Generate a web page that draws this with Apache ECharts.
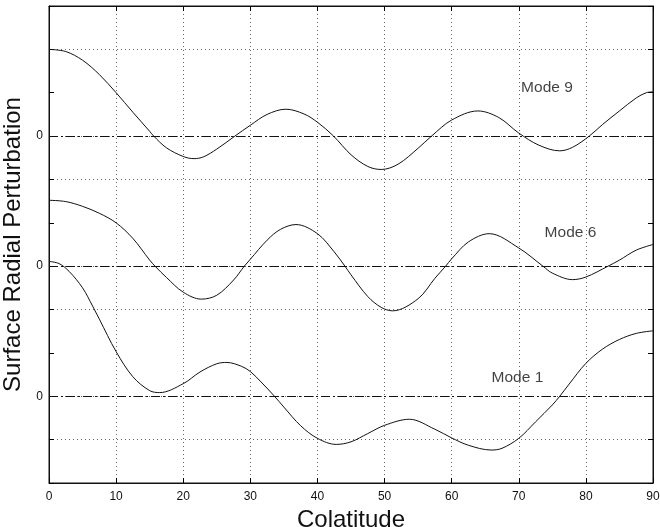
<!DOCTYPE html>
<html>
<head>
<meta charset="utf-8">
<script src="https://cdn.jsdelivr.net/npm/echarts@6/dist/echarts.min.js"></script>
<style>html,body{margin:0;padding:0;background:#fff;}#c{width:660px;height:527px;}</style>
</head>
<body>
<div id="c"></div>
<script>
// x ticks
const xTicks = [0, 10, 20, 30, 40, 50, 60, 70, 80, 90];
// y tick labels (value on stacked axis -> shown text)
const yLabelValues = [2, 5, 8];
const yLabelTexts = ['0', '0', '0'];

// offsets of each mode's zero line on the stacked axis
const offsets = [8, 5, 2];
const modeNames = ['Mode 9', 'Mode 6', 'Mode 1'];
const labelPos = [[74.2, 9.11], [77.7, 5.77], [69.8, 2.42]];

// [colatitude, perturbation relative to zero line]
const mode9 = [[0,2.0],[2.5,1.95],[5,1.75],[7.5,1.42],[10,1.0],[12.5,0.55],[15,0.11],[15.6,0],[17.5,-0.27],[20,-0.47],[21.6,-0.52],[23,-0.48],[25,-0.3],[27.7,0],[30,0.25],[32.5,0.50],[35.3,0.62],[38,0.51],[40,0.32],[42.4,0],[45,-0.43],[47.5,-0.70],[49.5,-0.77],[52,-0.65],[55,-0.28],[57,0],[60,0.37],[63.9,0.58],[67,0.43],[70,0.07],[73,-0.21],[76.1,-0.34],[78,-0.26],[80.5,0],[82.5,0.27],[85,0.58],[87.5,0.88],[89,1.0],[90,1.02]];
const mode6 = [[0,1.52],[2.5,1.49],[5,1.38],[7.5,1.22],[10,1.0],[12.5,0.64],[15,0.14],[15.8,0],[17.5,-0.26],[20,-0.6],[22.7,-0.76],[25,-0.67],[27.5,-0.32],[29.1,0],[30,0.16],[32.5,0.6],[34.5,0.85],[36.8,0.96],[40,0.75],[42.5,0.33],[44.1,0],[45,-0.2],[47.5,-0.70],[49.5,-0.95],[51.2,-1.03],[55,-0.75],[57.5,-0.28],[59.1,0],[60,0.17],[62.5,0.56],[65.6,0.75],[70,0.42],[73.6,0],[75,-0.16],[78,-0.31],[80,-0.25],[83.3,0],[85,0.14],[87.5,0.37],[90,0.5]];
const mode1 = [[0,3.11],[1.5,3.06],[3,2.88],[5,2.5],[6.5,2.08],[7.5,1.78],[10,1.03],[12.5,0.45],[15,0.13],[16.5,0.085],[20,0.29],[22.5,0.56],[25,0.75],[26.5,0.78],[28.7,0.69],[30,0.57],[31.6,0.33],[33.6,0],[35,-0.25],[37.5,-0.68],[40,-0.97],[42.8,-1.11],[45,-1.05],[47.5,-0.86],[50,-0.67],[53.7,-0.53],[57.5,-0.76],[60,-0.96],[62.5,-1.13],[65.9,-1.24],[67.5,-1.2],[70,-0.97],[72.5,-0.59],[75,-0.2],[76.1,0],[77.5,0.28],[80,0.76],[82.5,1.09],[85,1.31],[87.5,1.45],[90,1.51]];
const modes = [mode9, mode6, mode1];

const FONT = 'Liberation Sans';
const gridColors = [];
for (let v = 0; v <= 11; v++) gridColors.push(yLabelValues.indexOf(v) >= 0 ? 'rgba(0,0,0,0)' : '#666');

const chart = echarts.init(document.getElementById('c'), null, {renderer: 'canvas'});

const series = [];
modes.forEach((m, i) => {
  series.push({
    type: 'line',
    xAxisIndex: 0, yAxisIndex: 0,
    data: m.map(p => [p[0], p[1] + offsets[i]]),
    smooth: 0.34,
    symbol: 'none',
    lineStyle: {color: '#111', width: 1},
    z: 5,
    markLine: {
      silent: true,
      symbol: 'none',
      label: {show: false},
      lineStyle: {color: '#111', width: 1, type: [9, 3, 2, 3]},
      data: [{yAxis: offsets[i]}]
    },
    animation: false
  });
});
series.push({
  type: 'scatter',
  xAxisIndex: 1, yAxisIndex: 1,
  data: labelPos.map((p, i) => ({value: p, name: modeNames[i]})),
  symbolSize: 0,
  label: {show: true, position: 'inside', formatter: p => p.name, color: '#111', fontFamily: FONT, fontSize: 15.5},
  z: 10,
  animation: false
});

const commonAxisLine = {show: true, onZero: false, lineStyle: {color: '#111', width: 1}};
const tickStyle = {show: true, inside: true, length: 5, lineStyle: {color: '#000', width: 1}};
chart.setOption({
  animation: false,
  backgroundColor: '#fff',
  grid: {left: 49, right: 7, top: 6, bottom: 44, containLabel: false, outerBoundsMode: 'none',
    show: true, borderColor: '#111', borderWidth: 1, backgroundColor: 'transparent'},
  xAxis: [{
    type: 'value', min: 0, max: 90, interval: 10, position: 'bottom',
    name: 'Colatitude', nameLocation: 'middle', nameGap: 20,
    nameTextStyle: {fontFamily: FONT, fontSize: 24, color: '#111'},
    axisLine: commonAxisLine,
    axisTick: tickStyle,
    axisLabel: {show: true, margin: 8, fontFamily: FONT, fontSize: 12, color: '#111',
      formatter: v => (xTicks.indexOf(v) >= 0 ? String(v) : '')},
    splitLine: {show: true, lineStyle: {color: '#666', width: 1, type: [1, 3]}}
  }, {
    type: 'value', min: 0, max: 90, interval: 10, position: 'top', show: true,
    axisLine: commonAxisLine,
    axisTick: tickStyle,
    axisLabel: {show: false}, splitLine: {show: false}
  }],
  yAxis: [{
    type: 'value', min: 0, max: 11, interval: 1, position: 'left',
    name: 'Surface Radial Perturbation', nameLocation: 'middle', nameGap: 18,
    nameTextStyle: {fontFamily: FONT, fontSize: 24, color: '#111'},
    axisLine: commonAxisLine,
    axisTick: tickStyle,
    axisLabel: {show: true, margin: 6, fontFamily: FONT, fontSize: 12, color: '#111',
      formatter: v => { const k = yLabelValues.indexOf(v); return k >= 0 ? yLabelTexts[k] : ''; }},
    splitLine: {show: true, showMinLine: false, showMaxLine: false, lineStyle: {color: gridColors, width: 1, type: [1, 3]}}
  }, {
    type: 'value', min: 0, max: 11, interval: 1, position: 'right', show: true,
    axisLine: commonAxisLine,
    axisTick: tickStyle,
    axisLabel: {show: false}, splitLine: {show: false}
  }],
  series: series
});
</script>
</body>
</html>
